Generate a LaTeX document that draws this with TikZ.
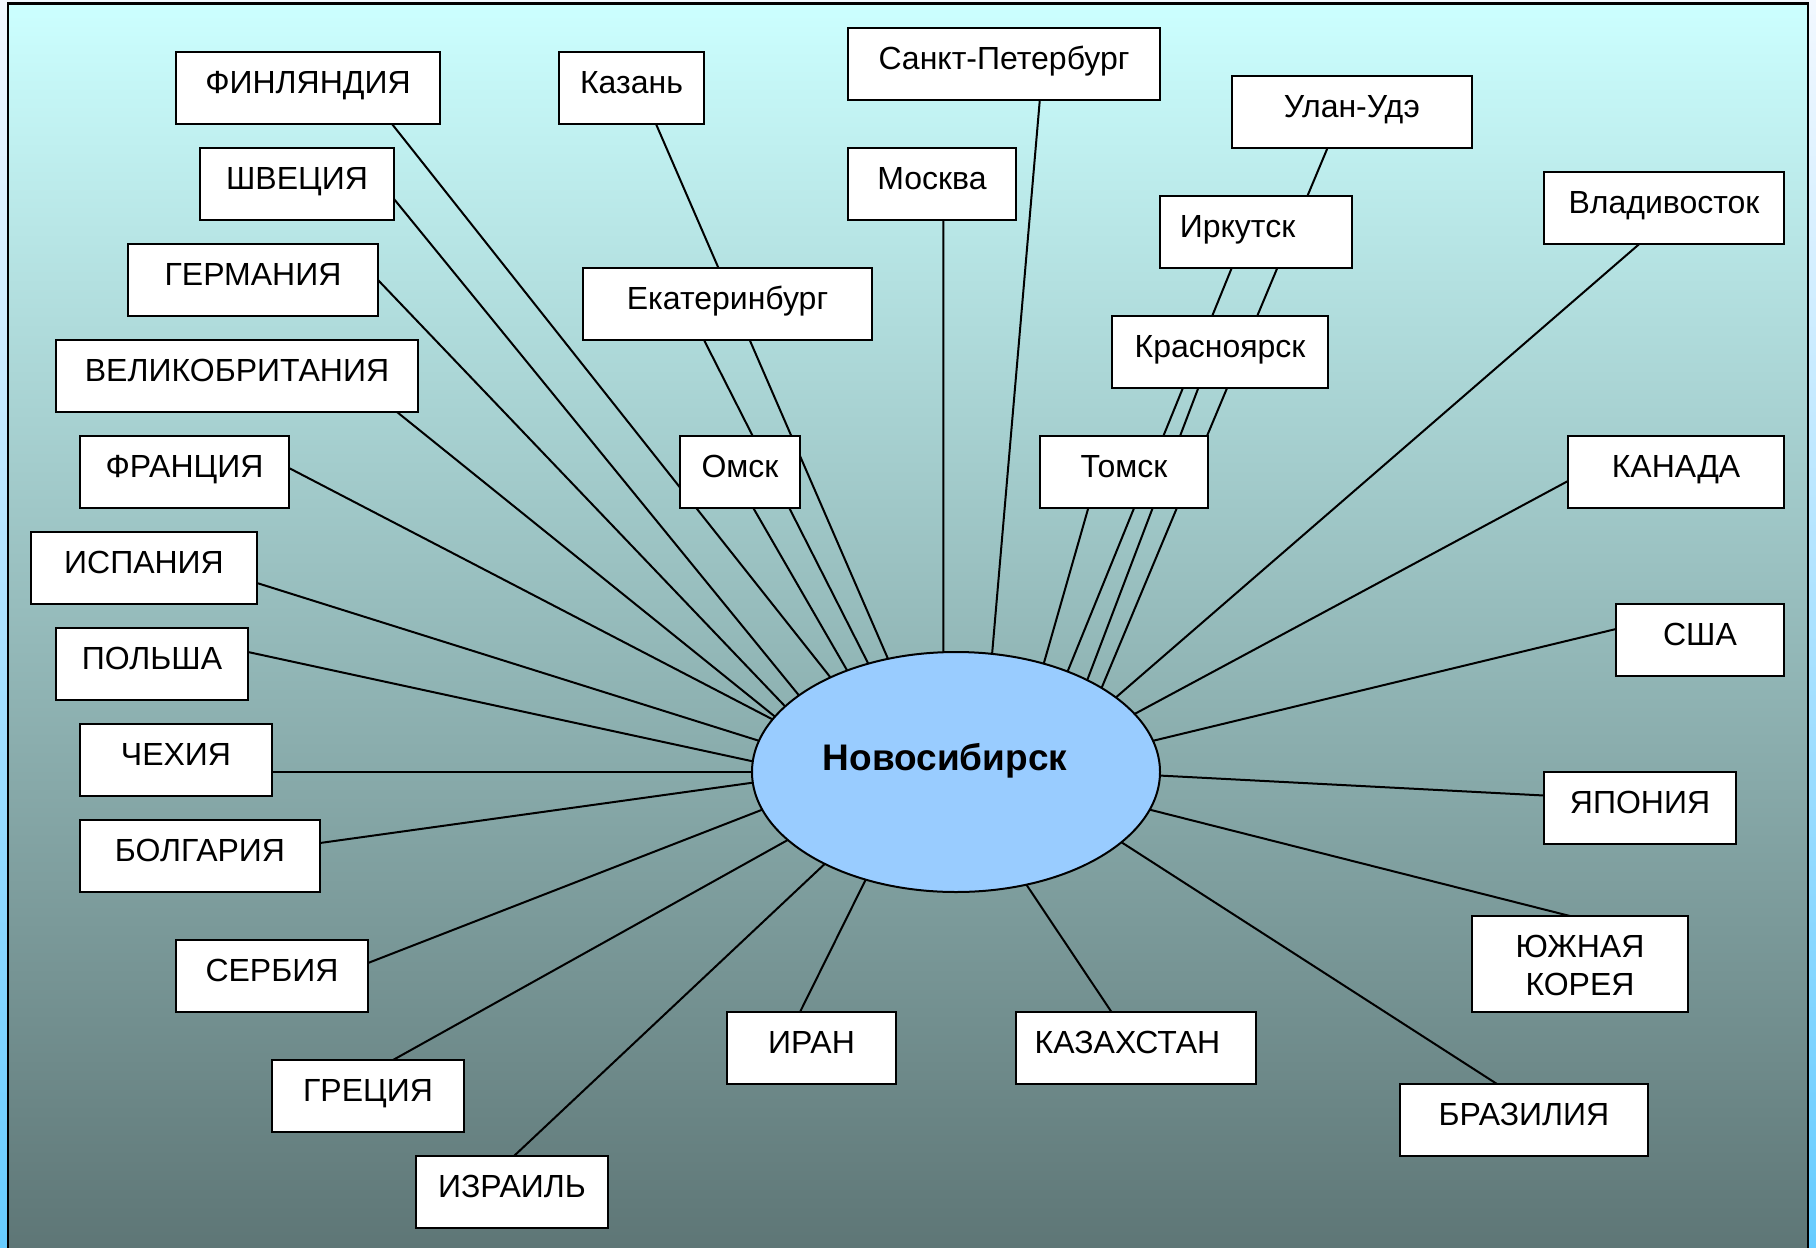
\documentclass[tikz,border=0pt]{standalone}
\usepackage{fontspec}
\setmainfont{Liberation Sans}
\usetikzlibrary{shapes.geometric}
\pgfdeclarelayer{bg}
\pgfdeclarelayer{lines}
\pgfsetlayers{bg,lines,main}
\definecolor{bgtop}{RGB}{204,255,255}
\definecolor{bgbot}{RGB}{94,118,118}
\definecolor{outtop}{RGB}{242,248,255}
\definecolor{outbot}{RGB}{102,204,255}
\definecolor{ellfill}{RGB}{153,204,255}
\begin{document}
\begin{tikzpicture}[x=1pt,y=-1pt,
  box/.style={draw=black, line width=2.2pt, fill=white, rectangle, inner sep=0pt, outer sep=0pt,
    font=\fontsize{32}{38}\selectfont},
  one/.style={text height=23pt, text depth=12pt},
  conn/.style={draw=black, line width=2pt},
  hub/.style={ellipse, draw=black, line width=2pt, fill=ellfill, inner sep=0pt, outer sep=0pt,
    minimum width=408pt, minimum height=240pt, font=\bfseries\fontsize{37}{44}\selectfont,
    text height=20pt, text depth=23pt}
]
\useasboundingbox (0,0) rectangle (1816,1248);

% background
\begin{pgfonlayer}{bg}
  \shade[top color=outtop, bottom color=outbot] (0,0) rectangle (1816,1248);
  \shade[top color=bgtop, bottom color=bgbot] (8,3.5) rectangle (1808,1248);
  \draw[line width=2.5pt] (8,1252) -- (8,3.5) -- (1808,3.5) -- (1808,1252);
\end{pgfonlayer}

% hub
\node[hub] (nsk) at (956,772) {Новосибирск\hspace*{22pt}};

% left column
\node[box, one, minimum width=264pt, minimum height=72pt] (fin) at (308,88)   {ФИНЛЯНДИЯ};
\node[box, one, minimum width=194pt, minimum height=72pt] (swe) at (297,184)  {ШВЕЦИЯ};
\node[box, one, minimum width=250pt, minimum height=72pt] (ger) at (253,280)  {ГЕРМАНИЯ};
\node[box, one, minimum width=362pt, minimum height=72pt] (gbr) at (237,376)  {ВЕЛИКОБРИТАНИЯ};
\node[box, one, minimum width=209pt, minimum height=72pt] (fra) at (184.5,472) {ФРАНЦИЯ};
\node[box, one, minimum width=226pt, minimum height=72pt] (esp) at (144,568)  {ИСПАНИЯ};
\node[box, one, minimum width=192pt, minimum height=72pt] (pol) at (152,664)  {ПОЛЬША};
\node[box, one, minimum width=192pt, minimum height=72pt] (cze) at (176,760)  {ЧЕХИЯ};
\node[box, one, minimum width=240pt, minimum height=72pt] (bul) at (200,856)  {БОЛГАРИЯ};
\node[box, one, minimum width=192pt, minimum height=72pt] (srb) at (272,976)  {СЕРБИЯ};
\node[box, one, minimum width=192pt, minimum height=72pt] (gre) at (368,1096) {ГРЕЦИЯ};
\node[box, one, minimum width=192pt, minimum height=72pt] (isr) at (512,1192) {ИЗРАИЛЬ};

% bottom
\node[box, one, minimum width=169pt, minimum height=72pt] (irn) at (811.5,1048) {ИРАН};
\node[box, one, minimum width=240pt, minimum height=72pt] (kaz) at (1136,1048)  {КАЗАХСТАН\hspace*{17pt}};

% right column
\node[box, one, minimum width=248pt, minimum height=72pt] (bra) at (1524,1120) {БРАЗИЛИЯ};
\node[box, align=center, text height=63pt, text depth=0pt, minimum width=216pt, minimum height=96pt] (kor) at (1580,964) {ЮЖНАЯ\\КОРЕЯ};
\node[box, one, minimum width=192pt, minimum height=72pt] (jpn) at (1640,808)  {ЯПОНИЯ};
\node[box, one, minimum width=168pt, minimum height=72pt] (usa) at (1700,640)  {США};
\node[box, one, minimum width=216pt, minimum height=72pt] (can) at (1676,472)  {КАНАДА};
\node[box, one, minimum width=240pt, minimum height=72pt] (vla) at (1664,208)  {Владивосток};

% Russian cities
\node[box, one, minimum width=240pt, minimum height=72pt] (ulu) at (1352,112)  {Улан-Удэ};
\node[box, one, minimum width=192pt, minimum height=72pt] (irk) at (1256,232)  {Иркутск\hspace*{37pt}};
\node[box, one, minimum width=216pt, minimum height=72pt] (kra) at (1220,352)  {Красноярск};
\node[box, one, minimum width=168pt, minimum height=72pt] (tom) at (1124,472)  {Томск};
\node[box, one, minimum width=312pt, minimum height=72pt] (spb) at (1004,64)   {Санкт-Петербург};
\node[box, one, minimum width=168pt, minimum height=72pt] (mos) at (932,184)   {Москва};
\node[box, one, minimum width=145pt, minimum height=72pt] (kzn) at (631.5,88)  {Казань};
\node[box, one, minimum width=289pt, minimum height=72pt] (eka) at (727.5,304) {Екатеринбург};
\node[box, one, minimum width=120pt, minimum height=72pt] (oms) at (740,472)   {Омск};

% connectors (behind the boxes)
\begin{pgfonlayer}{lines}
  \draw[conn] ([xshift=84pt]fin.south)   -- (nsk.143.1);
  \draw[conn] ([yshift=-15pt]swe.east)   -- (nsk.154.3);
  \draw[conn] (ger.east)                 -- (nsk.159.4);
  \draw[conn] ([xshift=160pt]gbr.south)  -- (nsk.163.5);
  \draw[conn] ([yshift=4pt]fra.east)     -- (nsk.164.6);
  \draw[conn] ([yshift=-15pt]esp.east)   -- (nsk.171.4);
  \draw[conn] ([yshift=12pt]pol.east)    -- (nsk.177.0);
  \draw[conn] ([yshift=-12pt]cze.east)   -- (nsk.180);
  \draw[conn] ([yshift=13pt]bul.east)    -- (nsk.183.1);
  \draw[conn] ([yshift=13pt]srb.east)    -- (nsk.191.6);
  \draw[conn] ([xshift=25pt]gre.north)   -- (nsk.202.3);
  \draw[conn] ([xshift=2pt]isr.north)    -- (nsk.215.5);
  \draw[conn] ([xshift=-11.5pt]irn.north) -- (nsk.230.3);
  \draw[conn] ([xshift=-24.5pt]kaz.north) -- (nsk.302.5);
  \draw[conn] ([xshift=-27pt]bra.north)  -- (nsk.337.0);
  \draw[conn] ([xshift=-10pt]kor.north)  -- (nsk.349.9);
  \draw[conn] ([yshift=12.5pt]jpn.west)  -- (nsk.359.6);
  \draw[conn] ([yshift=11pt]usa.west)    -- (nsk.9.8);
  \draw[conn] ([yshift=-9pt]can.west)    -- (nsk.18.7);
  \draw[conn] ([xshift=-24.7pt]vla.south) -- (nsk.25.4);
  \draw[conn] ([xshift=-24.5pt]ulu.south) -- (nsk.30.0);
  \draw[conn] ([xshift=-24.3pt]irk.south) -- (nsk.42.8);
  \draw[conn] ([xshift=-21.7pt]kra.south) -- (nsk.35.8);
  \draw[conn] ([xshift=-35.7pt]tom.south) -- (nsk.51.4);
  \draw[conn] ([xshift=35.8pt]spb.south) -- (nsk.73.0);
  \draw[conn] ([xshift=11.3pt]mos.south) -- (nsk.96.0);
  \draw[conn] ([xshift=24.5pt]kzn.south) -- (nsk.121.2);
  \draw[conn] ([xshift=-23.5pt]eka.south) -- (nsk.129.7);
  \draw[conn] ([xshift=13.3pt]oms.south) -- (nsk.137.7);
\end{pgfonlayer}
\end{tikzpicture}
\end{document}
